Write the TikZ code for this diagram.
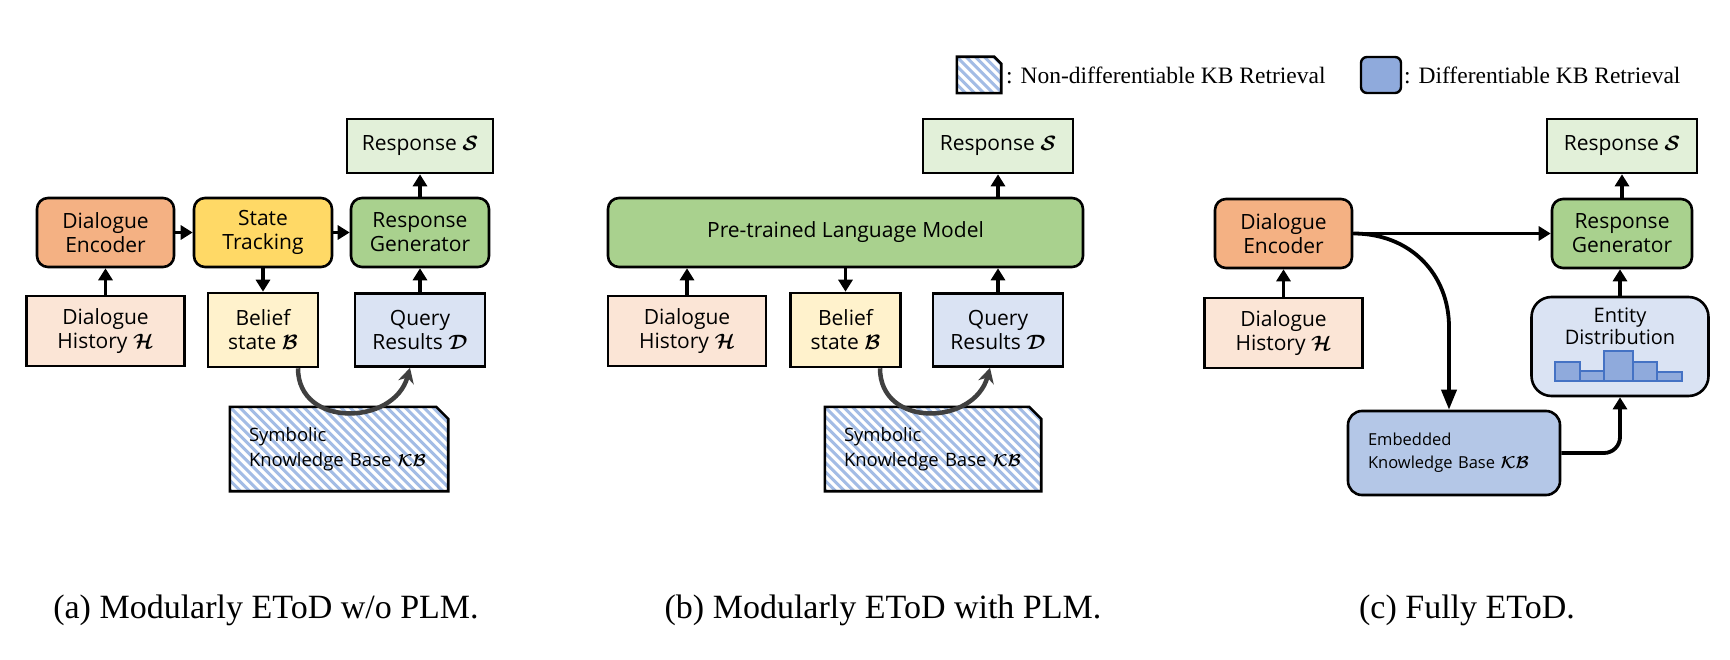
\documentclass[tikz,border=0pt]{standalone}
\usepackage{amsmath,bm}
\usepackage{fontspec}
\setmainfont{Liberation Serif}
\newfontfamily\boxfont{Open Sans}
\usetikzlibrary{arrows.meta,calc}
\pgfdeclarelayer{background}
\pgfsetlayers{background,main}
\definecolor{encO}{HTML}{F4B183}
\definecolor{stY}{HTML}{FFD966}
\definecolor{genG}{HTML}{A9D18E}
\definecolor{respG}{HTML}{E2F0D9}
\definecolor{histP}{HTML}{FBE5D6}
\definecolor{belY}{HTML}{FFF2CC}
\definecolor{qB}{HTML}{DAE3F3}
\definecolor{kbB}{HTML}{B4C7E7}
\definecolor{barB}{HTML}{8FAADC}
\definecolor{barE}{HTML}{4472C4}
\definecolor{stripeB}{HTML}{A3BCE5}
\definecolor{curveG}{HTML}{404040}
\begin{document}
\begin{tikzpicture}[x=1pt,y=-1pt,
  box/.style={draw=black, line width=2.6pt, align=center, inner sep=2pt,
    font=\boxfont\fontsize{21}{24}\selectfont},
  rbox/.style={box, rounded corners=11pt},
  arr/.style={line width=3.8pt, -{Triangle[length=12pt,width=14pt]}},
  curv/.style={draw=curveG, line width=4.5pt, -{Stealth[length=15pt,width=16pt]}},
  hatch/.style={draw=black, line width=2.6pt, fill=white,
    path picture={\foreach \k in {-12,...,28}{\draw[draw=stripeB, line width=3pt]
      ($(path picture bounding box.north west)+(\k*9.2,0)$) -- ++(120,120);}}},
  kbtext/.style={rectangle, minimum width=218pt, minimum height=84pt, text width=180pt,
    inner xsep=19pt, align=left, font=\boxfont\fontsize{18.5}{25}\selectfont},
  bar/.style={draw=barE, line width=1.6pt, fill=barB},
  legtext/.style={anchor=west, inner sep=0pt, font=\fontsize{23.5}{28}\selectfont},
  captext/.style={font=\fontsize{34}{40}\selectfont}
]
\useasboundingbox (0,0) rectangle (1730,660);

% ---------- legend ----------
\node[minimum width=44pt, minimum height=36pt, inner sep=0pt] (lgh) at (979,75) {};
\begin{pgfonlayer}{background}
\draw[hatch] (lgh.north west) -- ($(lgh.north east)+(-7,0)$) -- ($(lgh.north east)+(0,7)$)
  -- (lgh.south east) -- (lgh.south west) -- cycle;
\end{pgfonlayer}
\node[legtext] (lght) at (1006,75) {: Non-differentiable KB Retrieval};
\node[draw=black, line width=2.4pt, rounded corners=6pt, fill=barB,
  minimum width=40pt, minimum height=36pt, inner sep=0pt] (lgb) at (1381,75) {};
\node[legtext] (lgbt) at (1404,75) {: Differentiable KB Retrieval};

% ---------- panel (a) ----------
\node[rbox, fill=encO, minimum width=137pt, minimum height=69pt] (dea) at (105.5,232.5) {Dialogue\\Encoder};
\node[rbox, fill=stY, minimum width=138pt, minimum height=69pt] (sta) at (263,232.5) {State\\Tracking};
\node[rbox, fill=genG, minimum width=138pt, minimum height=69pt] (rga) at (420,232.5) {Response\\Generator};
\node[box, fill=respG, minimum width=146pt, minimum height=54pt] (respa) at (420,146) {Response $\bm{\mathcal{S}}$};
\node[box, fill=histP, minimum width=158pt, minimum height=70pt] (dha) at (105.5,331) {Dialogue\\History $\bm{\mathcal{H}}$};
\node[box, fill=belY, minimum width=110pt, minimum height=74pt] (bela) at (263,330) {Belief\\state $\bm{\mathcal{B}}$};
\node[box, fill=qB, minimum width=130pt, minimum height=73pt] (qa) at (420,330) {Query\\Results $\bm{\mathcal{D}}$};
\node[kbtext] (kba) at (339,449) {Symbolic\\Knowledge Base $\bm{\mathcal{KB}}$};
\begin{pgfonlayer}{background}
\draw[hatch] (kba.north west) -- ($(kba.north east)+(-12,0)$) -- ($(kba.north east)+(0,12)$)
  -- (kba.south east) -- (kba.south west) -- cycle;
\end{pgfonlayer}

\draw[arr] (dea.east) -- (sta.west);
\draw[arr] (sta.east) -- (rga.west);
\draw[arr] (sta.south) -- (bela.north);
\draw[arr] (dha.north) -- (dea.south);
\draw[arr] (qa.north) -- (rga.south);
\draw[arr] (rga.north) -- (respa.south);
\draw[curv] ([xshift=35pt]bela.south) .. controls +(0,60) and +(-16,58) .. ([xshift=-10pt]qa.south);

% ---------- panel (b) ----------
\node[box, fill=respG, minimum width=150pt, minimum height=54pt] (respb) at (998,146) {Response $\bm{\mathcal{S}}$};
\node[rbox, fill=genG, minimum width=475pt, minimum height=69pt] (plm) at (845.5,232.5) {Pre-trained Language Model};
\node[box, fill=histP, minimum width=158pt, minimum height=70pt] (dhb) at (687,331) {Dialogue\\History $\bm{\mathcal{H}}$};
\node[box, fill=belY, minimum width=110pt, minimum height=74pt] (belb) at (845.5,330) {Belief\\state $\bm{\mathcal{B}}$};
\node[box, fill=qB, minimum width=130pt, minimum height=73pt] (qb) at (998,330) {Query\\Results $\bm{\mathcal{D}}$};
\node[kbtext, minimum width=216pt, text width=178pt] (kbb) at (933,449) {Symbolic\\Knowledge Base $\bm{\mathcal{KB}}$};
\begin{pgfonlayer}{background}
\draw[hatch] (kbb.north west) -- ($(kbb.north east)+(-12,0)$) -- ($(kbb.north east)+(0,12)$)
  -- (kbb.south east) -- (kbb.south west) -- cycle;
\end{pgfonlayer}

\draw[arr] (dhb.north) -- (dhb.north |- plm.south);
\draw[arr] (plm.south -| belb.north) -- (belb.north);
\draw[arr] (qb.north) -- (qb.north |- plm.south);
\draw[arr] (plm.north -| respb.south) -- (respb.south);
\draw[curv] ([xshift=34.5pt]belb.south) .. controls +(0,60) and +(-16,58) .. ([xshift=-8pt]qb.south);

% ---------- panel (c) ----------
\node[rbox, fill=encO, minimum width=137pt, minimum height=69pt] (dec) at (1283.5,233.5) {Dialogue\\Encoder};
\node[box, fill=histP, minimum width=158pt, minimum height=70pt] (dhc) at (1283.5,333) {Dialogue\\History $\bm{\mathcal{H}}$};
\node[rbox, fill=genG, minimum width=140pt, minimum height=69pt] (rgc) at (1622,233.5) {Response\\Generator};
\node[box, fill=respG, minimum width=150pt, minimum height=54pt] (respc) at (1622,146) {Response $\bm{\mathcal{S}}$};
\node[box, rounded corners=20pt, fill=qB, minimum width=177pt, minimum height=99pt] (ed) at (1620,346.5) {};
\node[align=center, inner sep=0pt, font=\boxfont\fontsize{20}{22}\selectfont] (edt) at (1620,326) {Entity\\Distribution};
\draw[bar] (1555,381) rectangle (1580,362);
\draw[bar] (1580,381) rectangle (1604,371);
\draw[bar] (1604,381) rectangle (1633,351);
\draw[bar] (1633,381) rectangle (1657,362);
\draw[bar] (1657,381) rectangle (1682,372);
\node[draw=black, line width=2.6pt, rounded corners=14pt, fill=kbB, minimum height=84pt,
  text width=172pt, inner xsep=20pt, align=left, font=\boxfont\fontsize{16.5}{23}\selectfont]
  (kbc) at (1454,453) {Embedded\\Knowledge Base $\bm{\mathcal{KB}}$};

\draw[arr] (dhc.north) -- (dhc.north |- dec.south);
\draw[arr] (dec.east) -- (rgc.west);
\draw[line width=3.8pt, -{Triangle[length=20pt,width=15pt]}] (dec.east) .. controls +(58,0) and +(0,-52) .. (1449,327) -- ([xshift=-5pt]kbc.north);
\draw[arr, rounded corners=16pt] (kbc.east) -| (ed.south);
\draw[arr] (ed.north) -- (ed.north |- rgc.south);
\draw[arr] (rgc.north) -- (respc.south);

% ---------- captions ----------
\node[captext] (capa) at (266,610) {(a) Modularly EToD w/o PLM.};
\node[captext] (capb) at (883,610) {(b) Modularly EToD with PLM.};
\node[captext] (capc) at (1467,610) {(c) Fully EToD.};
\end{tikzpicture}
\end{document}
